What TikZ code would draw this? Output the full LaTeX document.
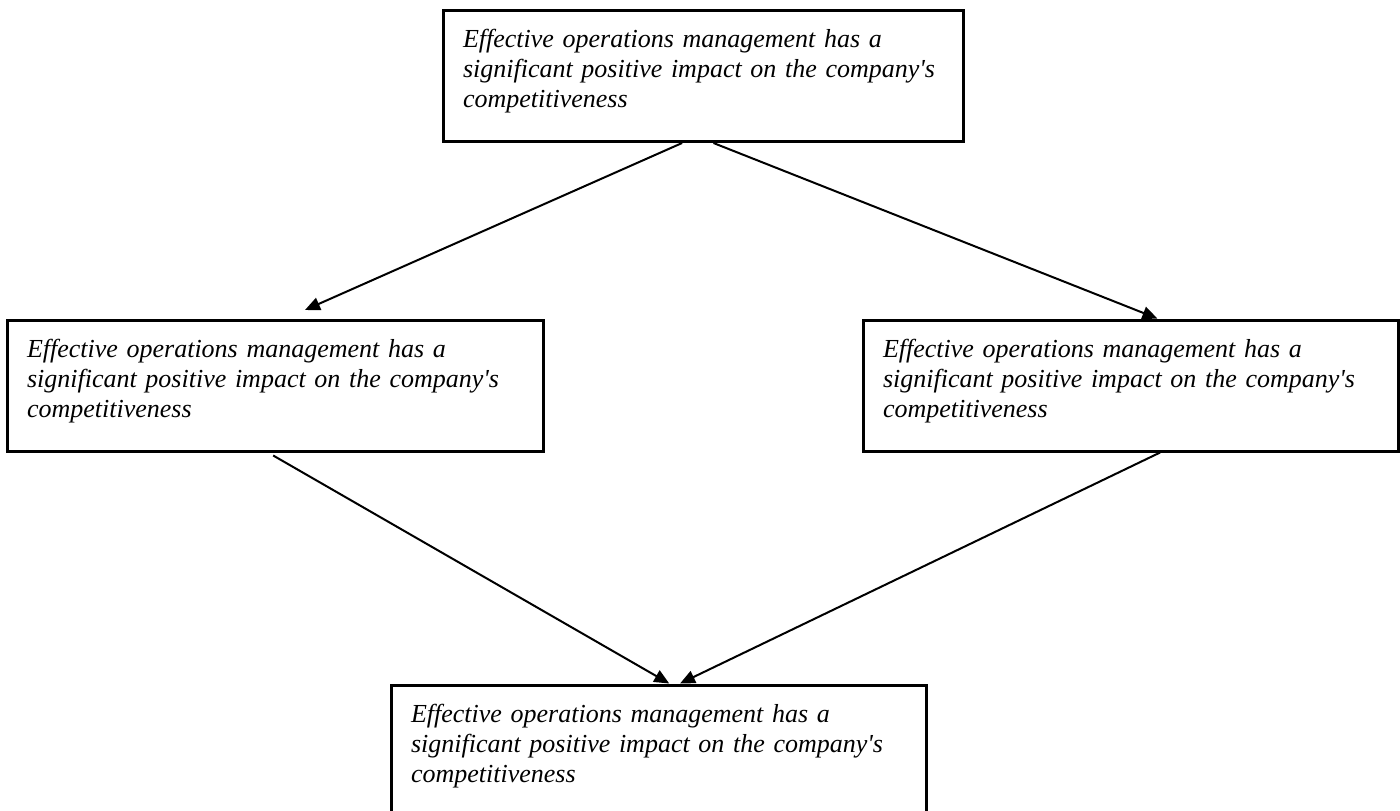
\documentclass[tikz,border=0pt]{standalone}
\usepackage{fontspec}
\setmainfont{Liberation Serif}
\usetikzlibrary{arrows.meta, calc}

\newcommand{\claimtext}{Effective operations management has a\\
  significant positive impact on the company\textquotesingle s\\competitiveness}

\begin{document}
\begin{tikzpicture}[x=0.5pt, y=-0.5pt,
  claim/.style={rectangle, draw=black, line width=1.5pt, align=left,
                inner xsep=10pt, inner ysep=0pt,
                text height=18.5pt, text depth=47pt,
                font=\fontsize{13}{15}\selectfont\itshape},
  link/.style={line width=1pt, -{Triangle[length=7.5pt, width=6.5pt]}},
]
\useasboundingbox (0,0) rectangle (1400,810);
% one box per claim; centre x/y and text width in pt
\foreach \name/\x/\y/\tw in {
  top/703/76/240,
  left/275/385.5/248,
  right/1130.5/385.5/247.5,
  bottom/658.5/750.5/247.5
} {
  \node[claim, text width=\tw pt] (\name) at (\x,\y) {\claimtext};
}
% top claim splits into the two middle ones
\draw[link, shorten >=10.5pt] ($(top.south west)!0.46!(top.south east)$)
  -- ($(left.north west)!0.52!(left.north east)$);
\draw[link] ($(top.south west)!0.52!(top.south east)$)
  -- ($(right.north west)!0.55!(right.north east)$);
% and both lead down to the last one
\draw[link, shorten <=3pt] ($(left.south west)!0.487!(left.south east)$)
  -- ($(bottom.north west)!0.52!(bottom.north east)$);
\draw[link] ($(right.south west)!0.555!(right.south east)$)
  -- ($(bottom.north west)!0.54!(bottom.north east)$);
\end{tikzpicture}
\end{document}
